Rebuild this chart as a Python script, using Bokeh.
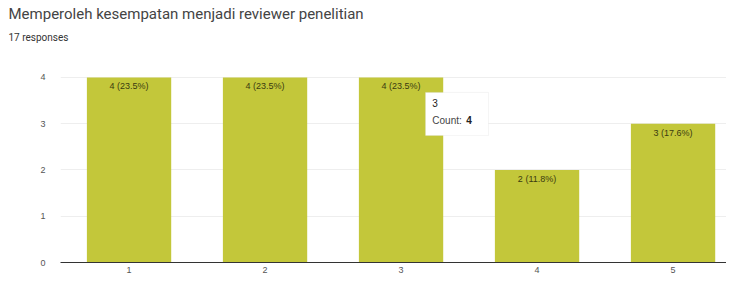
from bokeh.plotting import figure
from bokeh.models import ColumnDataSource, Range1d, Title, Label, BoxAnnotation
from bokeh.embed import file_html
from bokeh.resources import INLINE

categories = [1, 2, 3, 4, 5]
counts = [4, 4, 4, 2, 3]
total = 17
labels = [f"{c} ({round(c / total * 100, 1)}%)" for c in counts]
y_ticks = [0, 1, 2, 3, 4]

src = ColumnDataSource(dict(cat=categories, count=counts, label=labels))

p = figure(x_range=Range1d(0.496, 5.393), y_range=Range1d(0, 4.02),
           width=726, height=276, output_backend="svg", toolbar_location=None,
           min_border_left=60, min_border_right=0, min_border_bottom=14, min_border_top=0)
p.title = None
p.add_layout(Title(text=" ", text_font_size="2px", offset=0, standoff=25), "above")
p.add_layout(Title(text="17 responses", text_font="Roboto", text_font_size="10px",
                   text_color="#333333", text_font_style="normal", offset=-52, standoff=10), "above")
p.add_layout(Title(text="Memperoleh kesempatan menjadi reviewer penelitian", text_font="Roboto",
                   text_font_size="15px", text_color="#444444", text_font_style="normal",
                   offset=-52, standoff=4), "above")
p.outline_line_color = None
p.background_fill_color = "white"

p.vbar(x="cat", top="count", width=0.62, source=src, fill_color="#c3c73a", line_color=None)
p.text(x="cat", y="count", text="label", source=src, text_align="center", text_baseline="top",
       y_offset=4, text_font_size="9px", text_color="#3b3b10")

p.xaxis.ticker = categories
p.yaxis.ticker = y_ticks
p.yaxis.axis_line_color = None
p.yaxis.major_tick_line_color = None
p.yaxis.minor_tick_line_color = None
p.yaxis.major_tick_out = 0
p.yaxis.major_label_text_font_size = "9px"
p.yaxis.major_label_text_color = "#555555"
p.yaxis.major_label_standoff = 15
p.ygrid.grid_line_color = "#eeeeee"
p.xgrid.grid_line_color = None
p.xaxis.axis_line_color = "#333333"
p.xaxis.major_tick_line_color = None
p.xaxis.minor_tick_line_color = None
p.xaxis.major_tick_out = 0
p.xaxis.major_tick_in = 0
p.xaxis.major_label_text_font_size = "9px"
p.xaxis.major_label_text_color = "#555555"
p.xaxis.major_label_standoff = 4

# static tooltip on bar "3"
p.add_layout(BoxAnnotation(left=3.18, right=3.643, top=3.676, bottom=2.746, fill_color="white",
                           fill_alpha=1, line_color="#dddddd", line_width=1))
p.add_layout(Label(x=3.23, y=3.44, text="3", text_font_size="10px", text_color="#222222",
                   text_baseline="middle"))
p.add_layout(Label(x=3.23, y=3.07, text="Count:", text_font_size="10px", text_color="#444444",
                   text_baseline="middle"))
p.add_layout(Label(x=3.48, y=3.07, text="4", text_font_size="10px", text_color="#222222",
                   text_font_style="bold", text_baseline="middle"))

open("out.html", "w").write(file_html(p, INLINE))
